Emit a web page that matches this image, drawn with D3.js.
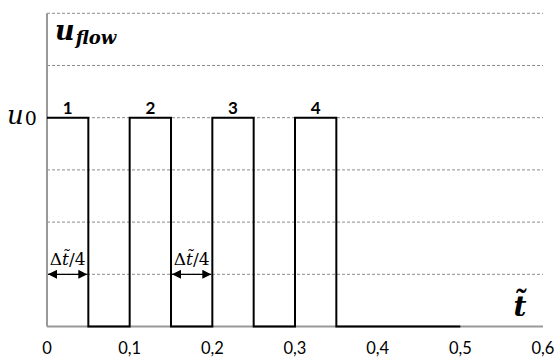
<!DOCTYPE html>
<html>
<head>
<meta charset="utf-8">
<script src="https://cdn.jsdelivr.net/npm/d3@7"></script>
<style>
  body { margin: 0; background: #fff; }
  text { font-family: Lato, "Open Sans", sans-serif; }
  .math { font-family: "DejaVu Serif", "Liberation Serif", serif; font-style: italic; }
</style>
</head>
<body>
<div id="chart"></div>
<script>
// signal samples (step after), time in t~ and value in grid units
var tValues = [0, 0.05, 0.1, 0.15, 0.2, 0.25, 0.3, 0.35, 0.5];
var uValues = [4, 0, 4, 0, 4, 0, 4, 0, 0];
var pulseLabels = ["1", "2", "3", "4"];
var pulseCenters = [0.025, 0.125, 0.225, 0.325];
var xTicks = [0, 0.1, 0.2, 0.3, 0.4, 0.5, 0.6];
var xTickLabels = ["0", "0,1", "0,2", "0,3", "0,4", "0,5", "0,6"];
var gridLevels = [1, 2, 3, 4, 5, 6];
var u0 = 4;
// Δt/4 spans marked with double arrows
var spanStart = [0, 0.15];
var spanEnd = [0.05, 0.2];
var spanLevel = 1;

var width = 557, height = 359;

var svg = d3.select("#chart").append("svg")
    .attr("width", width)
    .attr("height", height);

var x = d3.scaleLinear().domain([0, 0.6]).range([47, 543]);
var y = d3.scaleLinear().domain([0, 6]).range([326.5, 13.3]);

// arrow head
svg.append("defs").append("marker")
    .attr("id", "arr")
    .attr("viewBox", "0 0 10 10")
    .attr("refX", 10).attr("refY", 5)
    .attr("markerWidth", 9).attr("markerHeight", 9)
    .attr("markerUnits", "userSpaceOnUse")
    .attr("orient", "auto-start-reverse")
  .append("path")
    .attr("d", "M0,0L10,5L0,10z")
    .attr("fill", "#000");

// dashed gridlines
svg.selectAll(".grid")
    .data(gridLevels)
    .enter().append("line")
    .attr("class", "grid")
    .attr("x1", x(0)).attr("x2", x(0.6))
    .attr("y1", d => y(d)).attr("y2", d => y(d))
    .attr("stroke", "#8c8c8c")
    .attr("stroke-width", 1)
    .attr("stroke-dasharray", "3,2");

// axes lines
svg.append("line")
    .attr("x1", x(0)).attr("x2", x(0))
    .attr("y1", y(0)).attr("y2", y(6))
    .attr("stroke", "#999").attr("stroke-width", 2);
svg.append("line")
    .attr("x1", x(0)).attr("x2", x(0.6))
    .attr("y1", y(0)).attr("y2", y(0))
    .attr("stroke", "#999").attr("stroke-width", 2);

// x tick labels
svg.selectAll(".xt")
    .data(xTicks)
    .enter().append("text")
    .attr("class", "xt")
    .attr("x", d => x(d))
    .attr("y", 354)
    .attr("text-anchor", "middle")
    .attr("font-size", "16.5px")
    .attr("fill", "#000")
    .text((d, i) => xTickLabels[i]);

// signal
var line = d3.line()
    .x((d, i) => x(tValues[i]))
    .y(d => y(d))
    .curve(d3.curveStepAfter);

svg.append("path")
    .datum(uValues)
    .attr("d", line)
    .attr("fill", "none")
    .attr("stroke", "#000")
    .attr("stroke-width", 2);

// pulse numbers
svg.selectAll(".pl")
    .data(pulseLabels)
    .enter().append("text")
    .attr("class", "pl")
    .attr("x", (d, i) => x(pulseCenters[i]))
    .attr("y", y(u0) - 4)
    .attr("text-anchor", "middle")
    .attr("font-size", "17px")
    .attr("font-weight", "bold")
    .text(d => d);

// double arrows and labels
spanStart.forEach(function(s, i) {
  svg.append("line")
      .attr("x1", x(s) + 1).attr("x2", x(spanEnd[i]) - 1)
      .attr("y1", y(spanLevel)).attr("y2", y(spanLevel))
      .attr("stroke", "#000").attr("stroke-width", 1.2)
      .attr("marker-start", "url(#arr)")
      .attr("marker-end", "url(#arr)");
  var t = svg.append("text")
      .attr("class", "math")
      .attr("x", (x(s) + x(spanEnd[i])) / 2)
      .attr("y", y(spanLevel) - 9)
      .attr("text-anchor", "middle")
      .attr("font-size", "17px");
  t.append("tspan").attr("font-style", "normal").text("\u0394");
  t.append("tspan").text("t\u0303");
  t.append("tspan").attr("font-style", "normal").text("/4");
});

// u0 label
var u0t = svg.append("text")
    .attr("class", "math")
    .attr("x", 7)
    .attr("y", y(u0) + 6);
u0t.append("tspan").attr("font-size", "26px").text("u");
u0t.append("tspan").attr("font-size", "19px").attr("font-style", "normal").attr("dy", 1).attr("dx", 1).text("0");

// u_flow title
var uf = svg.append("text")
    .attr("class", "math")
    .attr("x", 55)
    .attr("y", 40)
    .attr("font-weight", "bold");
uf.append("tspan").attr("font-size", "27px").text("u");
uf.append("tspan").attr("font-size", "18px").attr("dy", 4).attr("dx", 1).text("flow");

// t~ label
svg.append("text")
    .attr("class", "math")
    .attr("x", 520)
    .attr("y", 316)
    .attr("text-anchor", "middle")
    .attr("font-size", "28px")
    .attr("font-weight", "bold")
    .text("t\u0303");
</script>
</body>
</html>
